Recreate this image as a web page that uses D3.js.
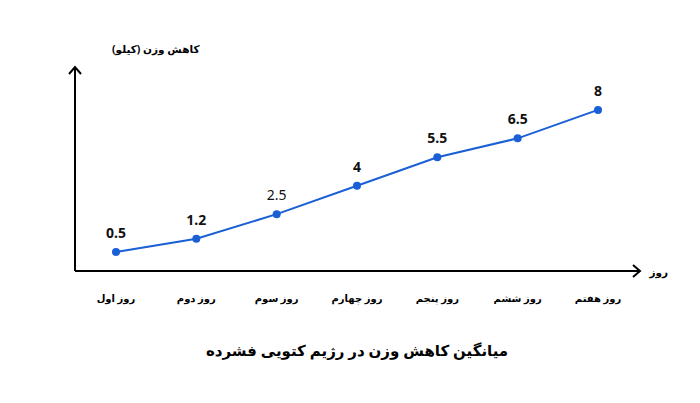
<!DOCTYPE html>
<html><head><meta charset="utf-8">
<script src="https://cdn.jsdelivr.net/npm/d3@7"></script>
<style>body{margin:0;background:#fff}text{font-family:"Noto Sans","DejaVu Sans",sans-serif}</style>
</head><body>
<script>
const days = ["روز اول", "روز دوم", "روز سوم", "روز چهارم", "روز پنجم", "روز ششم", "روز هفتم"]
const loss = [0.5, 1.2, 2.5, 4, 5.5, 6.5, 8]
const valueLabels = ["0.5", "1.2", "2.5", "4", "5.5", "6.5", "8"]

const svg = d3.select("body").append("svg").attr("width", 700).attr("height", 403)

const x = d3.scalePoint().domain(days).range([116, 598])
const y = d3.scaleLinear().domain([-0.5, 10]).range([271, 72])

// axes with arrow heads
svg.append("path").attr("d", "M75,271V68M69,74L75,67L81,74").attr("fill", "none").attr("stroke", "#000").attr("stroke-width", 2)
svg.append("path").attr("d", "M75,271H640M633,265L640,271L633,277").attr("fill", "none").attr("stroke", "#000").attr("stroke-width", 2)
svg.append("text").attr("x", 112).attr("y", 53).attr("text-anchor", "end").attr("font-size", 10.5).attr("font-weight", "bold").attr("direction", "rtl").text("کاهش وزن (کیلو)")
svg.append("text").attr("x", 668).attr("y", 276).attr("text-anchor", "end").attr("font-size", 10.5).attr("font-weight", "bold").text("روز")

svg.selectAll(".cat").data(days).join("text")
  .attr("x", d => x(d)).attr("y", 302).attr("text-anchor", "middle")
  .attr("font-size", 10).attr("font-weight", "bold").text(d => d)

const pts = days.map((d, i) => [x(d), y(loss[i])])
svg.append("path").attr("d", d3.line()(pts)).attr("fill", "none").attr("stroke", "#1a5fd6").attr("stroke-width", 2)
svg.selectAll(".dot").data(pts).join("circle")
  .attr("cx", d => d[0]).attr("cy", d => d[1]).attr("r", 4).attr("fill", "#1a5fd6")
svg.selectAll(".val").data(pts).join("text")
  .attr("x", d => d[0]).attr("y", d => d[1] - 14).attr("text-anchor", "middle")
  .attr("font-size", 14).attr("font-weight", (d, i) => i == 2 ? "normal" : "bold").attr("fill", "#111")
  .text((d, i) => valueLabels[i])

svg.append("text").attr("x", 357).attr("y", 356).attr("text-anchor", "middle").attr("font-size", 15).attr("font-weight", "bold").attr("direction", "rtl")
  .text("میانگین کاهش وزن در رژیم کتویی فشرده")
</script>
</body></html>
